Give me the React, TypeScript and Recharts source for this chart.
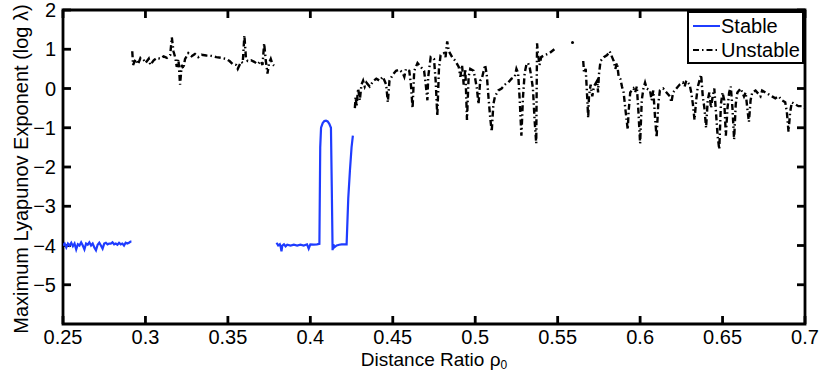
import React from 'react';
import { ComposedChart, Line, Scatter, XAxis, YAxis, Legend, ReferenceLine, ReferenceArea } from 'recharts';

const xTicks = [0.25, 0.3, 0.35, 0.4, 0.45, 0.5, 0.55, 0.6, 0.65, 0.7];
const yTicks = [-5, -4, -3, -2, -1, 0, 1, 2];
const xDomain = [0.25, 0.7];
const yDomain = [-6, 2];

// Stable branch, segment 1
const stable1X = [0.25, 0.251, 0.252, 0.253, 0.254, 0.255, 0.256, 0.257, 0.258, 0.259, 0.26, 0.261, 0.262, 0.263, 0.264, 0.265, 0.266, 0.267, 0.268, 0.269, 0.27, 0.271, 0.272, 0.273, 0.274, 0.275, 0.276, 0.277, 0.278, 0.279, 0.28, 0.281, 0.282, 0.283, 0.284, 0.285, 0.286, 0.287, 0.288, 0.289, 0.29, 0.291, 0.2915];
const stable1Y = [-4.0, -3.95, -4.05, -3.95, -4.0, -3.93, -4.02, -3.95, -4.1, -3.97, -4.0, -3.92, -4.0, -4.1, -3.95, -3.98, -3.92, -4.0, -3.95, -4.05, -4.12, -3.98, -3.93, -4.0, -4.08, -3.95, -3.93, -3.97, -3.95, -3.95, -3.92, -3.97, -3.95, -3.98, -3.93, -3.97, -3.95, -4.0, -3.93, -3.95, -3.93, -3.9, -3.9];
// Stable branch, segment 2
const stable2X = [0.3795, 0.3805, 0.3815, 0.382, 0.3825, 0.383, 0.384, 0.385, 0.386, 0.388, 0.39, 0.392, 0.394, 0.396, 0.398, 0.399, 0.4, 0.402, 0.404, 0.4055, 0.406, 0.4065, 0.4075, 0.4085, 0.4095, 0.4105, 0.4115, 0.4125, 0.413, 0.4135, 0.414, 0.4145, 0.416, 0.4175, 0.419, 0.4205, 0.422, 0.423, 0.424, 0.425, 0.4258];
const stable2Y = [-3.93, -4.0, -3.97, -4.03, -4.15, -4.0, -3.97, -4.02, -3.98, -4.0, -3.98, -4.0, -3.98, -4.0, -3.97, -4.08, -3.97, -3.98, -3.97, -3.96, -1.5, -1.0, -0.88, -0.83, -0.82, -0.84, -0.9, -1.0, -2.5, -4.12, -3.97, -4.05, -4.0, -3.98, -3.97, -3.97, -3.97, -2.8, -2.1, -1.5, -1.2];

// Unstable branch, segment 1
const unstable1X = [0.292, 0.2925, 0.294, 0.2955, 0.297, 0.299, 0.3, 0.302, 0.303, 0.305, 0.307, 0.309, 0.311, 0.313, 0.315, 0.316, 0.317, 0.318, 0.319, 0.32, 0.321, 0.322, 0.323, 0.324, 0.326, 0.328, 0.33, 0.332, 0.334, 0.337, 0.34, 0.343, 0.346, 0.349, 0.351, 0.353, 0.355, 0.356, 0.358, 0.359, 0.36, 0.361, 0.362, 0.364, 0.366, 0.368, 0.37, 0.371, 0.372, 0.373, 0.374, 0.375, 0.376, 0.377, 0.378];
const unstable1Y = [0.95, 0.6, 0.75, 0.62, 0.78, 0.72, 0.65, 0.76, 0.6, 0.72, 0.78, 0.76, 0.82, 0.78, 0.85, 1.3, 0.95, 0.8, 0.55, 0.75, 0.1, 0.6, 0.5, 0.75, 0.9, 0.82, 0.88, 0.8, 0.86, 0.84, 0.83, 0.8, 0.78, 0.75, 0.7, 0.62, 0.6, 0.5, 0.68, 0.65, 1.35, 0.75, 0.7, 0.72, 0.68, 0.62, 0.7, 0.6, 1.15, 0.7, 0.38, 0.65, 0.75, 0.62, 0.58];
// Unstable branch, segment 2
const unstable2X = [0.427, 0.4275, 0.428, 0.429, 0.43, 0.431, 0.432, 0.433, 0.434, 0.436, 0.438, 0.44, 0.442, 0.444, 0.446, 0.447, 0.448, 0.45, 0.452, 0.454, 0.456, 0.457, 0.458, 0.46, 0.461, 0.462, 0.463, 0.465, 0.467, 0.469, 0.47, 0.471, 0.4715, 0.473, 0.475, 0.476, 0.477, 0.478, 0.479, 0.481, 0.482, 0.483, 0.484, 0.486, 0.488, 0.49, 0.491, 0.492, 0.493, 0.494, 0.495, 0.496, 0.497, 0.499, 0.5, 0.501, 0.502, 0.503, 0.504, 0.506, 0.507, 0.508, 0.509, 0.51, 0.511, 0.512, 0.514, 0.516, 0.518, 0.52, 0.522, 0.524, 0.525, 0.526, 0.527, 0.528, 0.529, 0.53, 0.531, 0.532, 0.533, 0.534, 0.535, 0.536, 0.537, 0.5375, 0.538, 0.539, 0.54, 0.542, 0.545, 0.548];
const unstable2Y = [-0.5, -0.2, -0.45, 0.0, -0.3, 0.1, 0.2, 0.05, 0.15, 0.05, 0.18, 0.25, 0.2, 0.3, 0.1, -0.35, 0.2, 0.35, 0.45, 0.48, 0.4, 0.3, 0.5, 0.45, 0.1, -0.5, 0.45, 0.65, 0.55, 0.45, 0.1, -0.3, 0.3, 0.8, 0.75, 0.2, -0.7, 0.5, 0.85, 0.9, 0.8, 1.2, 0.95, 0.8, 0.7, 0.55, 0.3, 0.6, 0.1, 0.5, -0.8, 0.3, 0.5, 0.45, 0.25, 0.0, -0.4, 0.2, 0.25, 0.6, 0.35, -0.2, -0.7, -1.1, -0.4, -0.2, -0.05, 0.0, 0.1, 0.15, 0.25, 0.3, 0.5, 0.4, -0.3, -1.2, -0.2, 0.4, 0.6, 0.65, 0.55, 0.3, 0.0, -0.8, -1.4, 1.15, 0.9, 0.6, 0.8, 0.85, 0.9, 1.0];
// Unstable isolated point
const unstableDotX = [0.559];
const unstableDotY = [1.17];
// Unstable branch, segment 3
const unstable3X = [0.5655, 0.566, 0.567, 0.568, 0.5685, 0.569, 0.57, 0.571, 0.572, 0.574, 0.5745, 0.575, 0.576, 0.578, 0.58, 0.5815, 0.583, 0.584, 0.585, 0.586, 0.587, 0.588, 0.589, 0.59, 0.591, 0.5925, 0.593, 0.594, 0.596, 0.597, 0.598, 0.599, 0.6, 0.601, 0.602, 0.603, 0.604, 0.606, 0.607, 0.608, 0.609, 0.61, 0.611, 0.612, 0.614, 0.616, 0.618, 0.619, 0.62, 0.622, 0.624, 0.626, 0.627, 0.628, 0.63, 0.631, 0.632, 0.633, 0.634, 0.635, 0.636, 0.637, 0.638, 0.639, 0.64, 0.641, 0.642, 0.643, 0.644, 0.645, 0.646, 0.647, 0.648, 0.649, 0.65, 0.651, 0.652, 0.653, 0.654, 0.655, 0.656, 0.657, 0.658, 0.659, 0.661, 0.662, 0.663, 0.664, 0.665, 0.666, 0.667, 0.668, 0.67, 0.672, 0.673, 0.674, 0.676, 0.678, 0.68, 0.682, 0.684, 0.686, 0.688, 0.689, 0.69, 0.691, 0.692, 0.694, 0.696, 0.698, 0.7];
const unstable3Y = [0.7, 0.4, 0.5, -0.3, -0.75, -0.2, 0.1, -0.2, 0.05, 0.2, -0.1, 0.35, 0.7, 0.8, 0.85, 0.95, 0.8, 0.7, 0.5, 0.65, 0.3, 0.25, 0.05, -0.1, -0.5, -1.05, -0.6, -0.1, 0.0, -0.1, 0.05, -0.6, -1.4, -0.3, 0.0, 0.15, 0.0, -0.05, -0.3, -0.05, -0.7, -1.25, -0.4, -0.05, 0.0, -0.1, -0.2, -0.35, -0.1, 0.0, 0.1, 0.15, 0.05, 0.2, 0.1, -0.1, -0.4, -0.8, -0.3, 0.05, 0.2, 0.35, -0.2, -0.5, -1.0, -0.3, -0.1, -0.5, -0.2, 0.0, -0.6, -1.2, -1.55, -0.4, -0.1, -0.3, -1.2, -0.5, -0.1, 0.05, -0.5, -1.3, -0.4, -0.1, 0.0, -0.1, -0.2, -0.1, -0.5, -0.85, -0.3, -0.1, -0.05, -0.15, -0.2, -0.05, -0.1, -0.15, -0.2, -0.25, -0.2, -0.3, -0.35, -0.6, -1.1, -0.6, -0.35, -0.4, -0.45, -0.45, -0.5];

const BLUE = '#1f3cff';
const FONT = '"Liberation Sans", Arial, Helvetica, sans-serif';
const FS = 20;
const LABEL_FS = 19;

type Pt = { x: number; y: number | null };
const seg = (xs: number[], ys: number[]): Pt[] => xs.map((x, i) => ({ x, y: ys[i] }));
const joinSegs = (...segs: Pt[][]): Pt[] => {
  const out: Pt[] = [];
  segs.forEach((s, i) => {
    if (i > 0) {
      const prev = segs[i - 1];
      out.push({ x: (prev[prev.length - 1].x + s[0].x) / 2, y: null });
    }
    out.push(...s);
  });
  return out;
};

const stableData = joinSegs(seg(stable1X, stable1Y), seg(stable2X, stable2Y));
const unstableData = joinSegs(seg(unstable1X, unstable1Y), seg(unstable2X, unstable2Y), seg(unstable3X, unstable3Y));
const unstableDotData = seg(unstableDotX, unstableDotY);

const fmt = (v: number) => (v < 0 ? '\u2212' + String(Math.abs(v)) : String(v));
const TL = 8;
const TW = 2.8;

const BottomTickText = (p: any) => (
  <text x={p.x} y={p.y + 20} textAnchor="middle" fontSize={FS} fontFamily={FONT} fill="#000">{String(p.payload.value)}</text>
);
const LeftTickText = (p: any) => (
  <text x={p.x - 7} y={p.y + 7} textAnchor="end" fontSize={FS} fontFamily={FONT} fill="#000">{fmt(p.payload.value)}</text>
);

const VTickShape = (p: any) => {
  const top = Math.min(p.y1, p.y2);
  const bot = Math.max(p.y1, p.y2);
  return (
    <g>
      <line x1={p.x1} x2={p.x1} y1={bot} y2={bot - TL} stroke="#000" strokeWidth={TW} />
      <line x1={p.x1} x2={p.x1} y1={top} y2={top + TL} stroke="#000" strokeWidth={TW} />
    </g>
  );
};
const HTickShape = (p: any) => {
  const l = Math.min(p.x1, p.x2);
  const r = Math.max(p.x1, p.x2);
  return (
    <g>
      <line x1={l} x2={l + TL} y1={p.y1} y2={p.y1} stroke="#000" strokeWidth={TW} />
      <line x1={r - TL} x2={r} y1={p.y1} y2={p.y1} stroke="#000" strokeWidth={TW} />
    </g>
  );
};

const YLabel = (p: any) => {
  const vb = p.viewBox;
  const cx = vb.x + 21;
  const cy = vb.y + vb.height / 2 + 2;
  return (
    <text x={cx} y={cy} transform={`rotate(-90 ${cx} ${cy})`} textAnchor="middle" dominantBaseline="central" fontSize={FS} fontFamily={FONT} fill="#000">
      Maximum Lyapunov Exponent (log  λ)
    </text>
  );
};
const XLabel = (p: any) => {
  const vb = p.viewBox;
  const cx = vb.x + vb.width / 2;
  const cy = vb.y + 42;
  return (
    <text x={cx} y={cy} textAnchor="middle" fontSize={LABEL_FS} fontFamily={FONT} fill="#000">
      Distance Ratio ρ<tspan dy={3} fontSize={12}>0</tspan>
    </text>
  );
};

const LegendBox = () => (
  <div style={{ border: '2.5px solid #000', background: '#fff', width: 117, height: 53, boxSizing: 'border-box', fontFamily: FONT, fontSize: FS, lineHeight: '23px', padding: '1px 0 0 0', overflow: 'hidden' }}>
    <div style={{ display: 'flex', alignItems: 'center', height: 24 }}>
      <svg width={32} height={10} style={{ flex: 'none' }}><line x1={4} x2={31} y1={5} y2={5} stroke={BLUE} strokeWidth={2} /></svg>
      <span>Stable</span>
    </div>
    <div style={{ display: 'flex', alignItems: 'center', height: 24 }}>
      <svg width={32} height={10} style={{ flex: 'none' }}><line x1={4} x2={31} y1={5} y2={5} stroke="#000" strokeWidth={2} strokeDasharray="6 3 1.5 3" /></svg>
      <span>Unstable</span>
    </div>
  </div>
);

const Dot = (p: any) => <circle cx={p.cx} cy={p.cy} r={1.5} fill="#000" />;

export default function App() {
  return (
    <div style={{ position: 'absolute', left: 0, top: 0, width: 830, height: 372, background: '#fff' }}>
      <ComposedChart width={830} height={372} margin={{ top: 10, right: 25, bottom: 0, left: 0 }}>
        <XAxis xAxisId="b" dataKey="x" type="number" domain={xDomain} ticks={xTicks} interval={0} orientation="bottom" height={48} tickSize={0} tickMargin={0} axisLine={false} tickLine={false} tick={BottomTickText} allowDataOverflow label={<XLabel />} />
        <YAxis yAxisId="l" type="number" domain={yDomain} ticks={yTicks} interval={0} orientation="left" width={63} tickSize={0} tickMargin={0} axisLine={false} tickLine={false} tick={LeftTickText} allowDataOverflow label={<YLabel />} />
        <ReferenceArea xAxisId="b" yAxisId="l" x1={xDomain[0]} x2={xDomain[1]} y1={yDomain[0]} y2={yDomain[1]} fill="none" stroke="#000" strokeWidth={TW} fillOpacity={0} ifOverflow="visible" />
        {xTicks.map((t) => (
          <ReferenceLine key={'vx' + t} xAxisId="b" yAxisId="l" x={t} ifOverflow="visible" shape={VTickShape} />
        ))}
        {yTicks.map((t) => (
          <ReferenceLine key={'hy' + t} xAxisId="b" yAxisId="l" y={t} ifOverflow="visible" shape={HTickShape} />
        ))}
        <Line xAxisId="b" yAxisId="l" data={stableData} dataKey="y" type="linear" stroke={BLUE} strokeWidth={2.2} dot={false} activeDot={false} connectNulls={false} isAnimationActive={false} name="Stable" />
        <Line xAxisId="b" yAxisId="l" data={unstableData} dataKey="y" type="linear" stroke="#000" strokeWidth={2.4} strokeDasharray="6 3 1.5 3" dot={false} activeDot={false} connectNulls={false} isAnimationActive={false} name="Unstable" />
        <Scatter xAxisId="b" yAxisId="l" data={unstableDotData} dataKey="y" shape={Dot} isAnimationActive={false} legendType="none" />
        <Legend layout="horizontal" verticalAlign="middle" align="center" content={<LegendBox />} wrapperStyle={{ position: 'absolute', top: 11, left: 687, width: 117, height: 53 }} />
      </ComposedChart>
    </div>
  );
}
